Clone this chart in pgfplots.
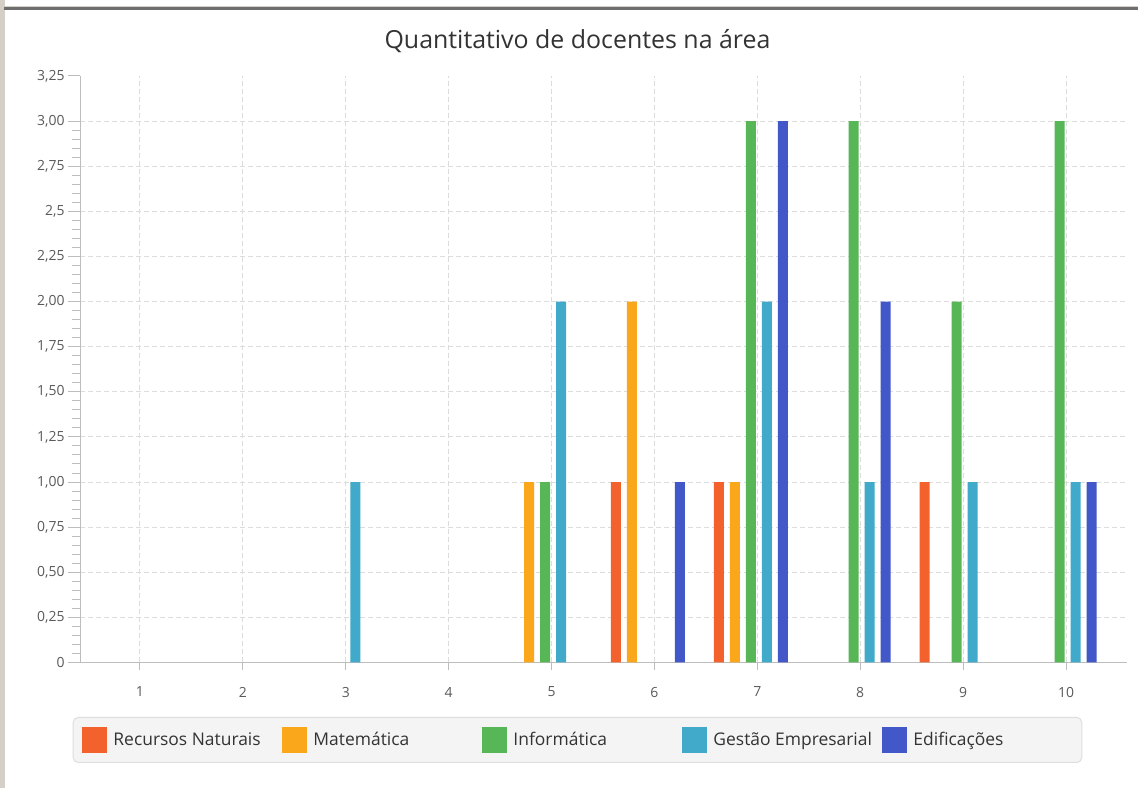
\documentclass[border=0pt]{standalone}
\usepackage{fontspec}
\setmainfont{Open Sans}
\usepackage{pgfplots}
\pgfplotsset{compat=1.18}
\definecolor{cRN}{HTML}{F3622D}
\definecolor{cMat}{HTML}{FBA71B}
\definecolor{cInf}{HTML}{57B757}
\definecolor{cGest}{HTML}{41A9C9}
\definecolor{cEdif}{HTML}{4258C9}
\definecolor{gridc}{HTML}{DCDCDC}
\definecolor{axisc}{HTML}{BDBDBD}
\definecolor{tickc}{HTML}{5A5A5A}
\definecolor{txt}{HTML}{333333}
\definecolor{legfill}{HTML}{F4F4F4}
\definecolor{legdraw}{HTML}{DEDEDE}
\definecolor{frame1}{HTML}{D4D0C8}
\definecolor{frame2}{HTML}{6E6E6E}
\pgfplotsset{sqleg/.style={legend image code/.code={\fill[##1,draw=none,sharp corners] (0bp,-13bp) rectangle (25bp,13bp);}}}
\begin{document}
\begin{tikzpicture}[x=1bp,y=1bp]
\fill[white] (0,0) rectangle (1138,788);
\fill[frame1] (0,0) rectangle (5,788);
\fill[frame2] (4,778) rectangle (1138,780.5);
\fill[frame1] (4,780.5) rectangle (1138,781.5);
\node[anchor=base, font=\fontsize{25}{30}\selectfont, text=txt] at (577.5,739.7) {Quantitativo de docentes na área};
\begin{axis}[
  at={(80bp,125.5bp)}, anchor=south west,
  scale only axis, width=1047bp, height=586.5bp,
  xmin=0.417, xmax=10.593, ymin=0, ymax=3.25,
  ybar, bar width=10bp,
  axis lines*=left,
  axis line style={axisc, line width=1bp},
  xtick={1,2,3,4,5,6,7,8,9,10},
  ytick={0,0.25,0.5,0.75,1,1.25,1.5,1.75,2,2.25,2.5,2.75,3},
  yticklabels={0,{0,25},{0,50},{0,75},{1,00},{1,25},{1,50},{1,75},{2,00},{2,25},{2,5},{2,75},{3,00}},
  extra y ticks={3.25}, extra y tick labels={3{,}25}, extra y tick style={grid=none},
  minor y tick num=4,
  tick align=outside,
  major tick length=12bp, minor tick length=8bp,
  xtick style={/pgfplots/major tick length=8bp},
  tick style={axisc, line width=1bp},
  xmajorgrids, ymajorgrids,
  major grid style={gridc, line width=1bp, dash pattern=on 5bp off 3bp},
  tick label style={font=\fontsize{14}{16}\selectfont, text=tickc},
  xticklabel style={yshift=-9bp},
  /pgf/number format/assume math mode=true,
  legend columns=5,
  legend style={at={(axis description cs:-0.007,-0.0929)}, anchor=north west,
    fill=legfill, draw=legdraw, line width=1bp, rounded corners=5bp,
    inner xsep=9.3bp, inner ysep=9.5bp,
    font=\fontsize{17.5}{20}\selectfont, text=txt,
    /tikz/column sep=6bp, nodes={inner sep=0pt, anchor=west}},
]
\addplot[fill=cRN, draw=none, bar shift=-38.5bp, sqleg] coordinates {(6,1) (7,1) (9,1)};
\addlegendentry{\makebox[163bp][l]{Recursos Naturais}}
\addplot[fill=cMat, draw=none, bar shift=-22.5bp, sqleg] coordinates {(5,1) (6,2) (7,1)};
\addlegendentry{\makebox[163bp][l]{Matemática}}
\addplot[fill=cInf, draw=none, bar shift=-6.5bp, sqleg] coordinates {(5,1) (7,3) (8,3) (9,2) (10,3)};
\addlegendentry{\makebox[163bp][l]{Informática}}
\addplot[fill=cGest, draw=none, bar shift=9.5bp, sqleg] coordinates {(3,1) (5,2) (7,2) (8,1) (9,1) (10,1)};
\addlegendentry{\makebox[163bp][l]{Gestão Empresarial}}
\addplot[fill=cEdif, draw=none, bar shift=25.5bp, sqleg] coordinates {(6,1) (7,3) (8,2) (10,1)};
\addlegendentry{\makebox[159bp][l]{Edificações}}
\end{axis}
\end{tikzpicture}
\end{document}
